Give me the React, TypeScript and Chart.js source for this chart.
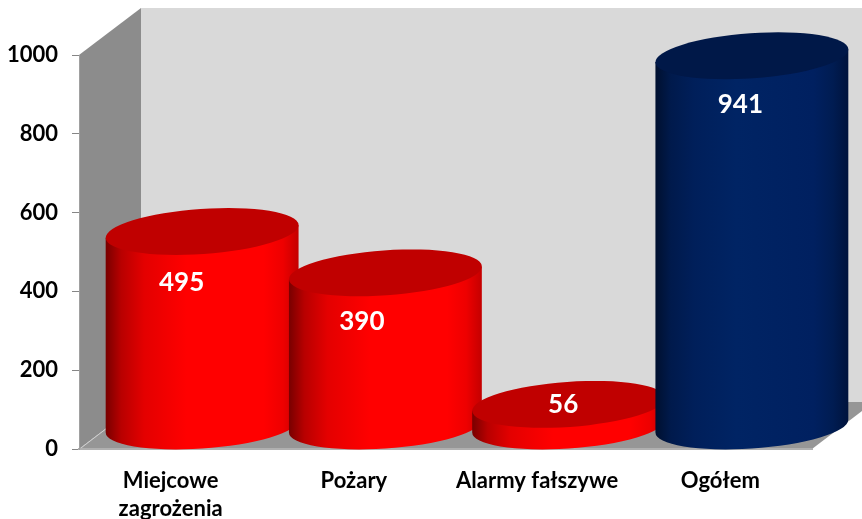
import React, { useEffect, useRef } from "react";
import { Chart, registerables } from "chart.js";

Chart.register(...registerables);

const categories = [["Miejcowe", "zagrożenia"], "Pożary", "Alarmy fałszywe", "Ogółem"];
const values = [495, 390, 56, 941];
const yTicks = [0, 200, 400, 600, 800, 1000];
const FONT = "Lato, Carlito, sans-serif";

const palettes = [
  { top: "#c00000", stops: ["#780000", "#b80000", "#e40000", "#ff0000", "#ff0000", "#ee0000", "#c40000"] },
  { top: "#001848", stops: ["#00102f", "#001a4c", "#001f5a", "#002464", "#002060", "#001c52", "#00133c"] },
];
const stopPos = [0, 0.08, 0.2, 0.42, 0.82, 0.92, 1];
const barPalette = [0, 0, 0, 1];
// label nudges relative to each bar's own position
const labelNudge = [
  { dx: 11, dy: 29 },
  { dx: 8, dy: 26 },
  { dx: 26, dy: -22 },
  { dx: 20, dy: 26 },
];

const DEPTH_X = 62;
const DEPTH_Y = 47;
const CYL_DX = 31.5;
const CYL_DY = -22.5;
const TILT = (-4 * Math.PI) / 180;
const RY = 22.5;

const poly = (ctx: any, pts: number[][], fill: string) => {
  ctx.beginPath();
  pts.forEach(([x, y], i) => (i ? ctx.lineTo(x, y) : ctx.moveTo(x, y)));
  ctx.closePath();
  ctx.fillStyle = fill;
  ctx.fill();
};

const walls = {
  id: "walls",
  beforeDraw(chart: any) {
    const { ctx, chartArea: a } = chart;
    const { left: l, right: r, top: t, bottom: b } = a;
    ctx.save();
    poly(ctx, [[l + DEPTH_X, t - DEPTH_Y], [r + DEPTH_X, t - DEPTH_Y], [r + DEPTH_X, b - DEPTH_Y], [l + DEPTH_X, b - DEPTH_Y]], "#d9d9d9");
    poly(ctx, [[l, t], [l + DEPTH_X, t - DEPTH_Y], [l + DEPTH_X, b - DEPTH_Y], [l, b]], "#8c8c8c");
    poly(ctx, [[l, b], [r, b], [r + DEPTH_X, b - DEPTH_Y], [l + DEPTH_X, b - DEPTH_Y]], "#969696");
    ctx.strokeStyle = "#d0d0d0";
    ctx.lineWidth = 1;
    ctx.beginPath();
    ctx.moveTo(l + 2, b - 1);
    ctx.lineTo(l + DEPTH_X, b - DEPTH_Y);
    ctx.stroke();
    ctx.restore();
  },
};

const cylinders = {
  id: "cylinders",
  afterDatasetsDraw(chart: any) {
    const { ctx } = chart;
    const meta = chart.getDatasetMeta(0);
    ctx.save();
    meta.data.forEach((bar: any, i: number) => {
      const cx = bar.x + CYL_DX;
      const a = bar.width / 2;
      const yBottom = bar.base + CYL_DY;
      const yTop = bar.y + CYL_DY;
      const pal = palettes[barPalette[i]];
      const t0 = Math.atan2(-RY * Math.sin(TILT), a * Math.cos(TILT));
      const ex = a * Math.cos(t0) * Math.cos(TILT) - RY * Math.sin(t0) * Math.sin(TILT);
      const ey = a * Math.cos(t0) * Math.sin(TILT) + RY * Math.sin(t0) * Math.cos(TILT);
      const g = ctx.createLinearGradient(cx - ex, 0, cx + ex, 0);
      pal.stops.forEach((c, k) => g.addColorStop(stopPos[k], c));
      ctx.beginPath();
      ctx.ellipse(cx, yBottom, a, RY, TILT, t0, t0 + Math.PI, false);
      ctx.lineTo(cx - ex, yTop - ey);
      ctx.lineTo(cx + ex, yTop + ey);
      ctx.closePath();
      ctx.fillStyle = g;
      ctx.fill();
      ctx.beginPath();
      ctx.ellipse(cx, yTop, a, RY, TILT, 0, Math.PI * 2);
      ctx.fillStyle = pal.top;
      ctx.fill();
    });
    ctx.font = `bold 26px ${FONT}`;
    ctx.fillStyle = "#ffffff";
    ctx.textAlign = "center";
    ctx.textBaseline = "middle";
    meta.data.forEach((bar: any, i: number) => {
      ctx.fillText(String(values[i]), bar.x + labelNudge[i].dx, bar.y + labelNudge[i].dy);
    });
    ctx.restore();
  },
};

export default function App() {
  const ref = useRef<HTMLCanvasElement>(null);
  useEffect(() => {
    document.body.style.margin = "0";
    const chart = new Chart(ref.current as any, {
      type: "bar",
      data: {
        labels: categories as any,
        datasets: [{ data: values, backgroundColor: "transparent", barPercentage: 1.055, categoryPercentage: 1 }],
      },
      options: {
        responsive: false,
        animation: false,
        layout: { padding: { top: 55, right: 50, left: 0, bottom: 0 } },
        plugins: { legend: { display: false }, tooltip: { enabled: false } },
        scales: {
          x: {
            grid: { display: false, drawTicks: false },
            border: { color: "#b0b0b0", width: 2 },
            ticks: {
              color: "#000",
              maxRotation: 0,
              autoSkip: false,
              padding: 18,
              font: { family: FONT, weight: "bold", size: 22, lineHeight: 1.28 },
            },
            afterFit: (s: any) => { s.height = 70; },
          },
          y: {
            min: 0,
            max: 1000,
            afterBuildTicks: (s: any) => { s.ticks = yTicks.map((value) => ({ value })); },
            grid: { drawOnChartArea: false, tickLength: 7, color: "#868686", lineWidth: 1 },
            border: { color: "#a0a0a0", width: 1 },
            ticks: {
              color: "#000",
              padding: 14,
              callback: (v: any) => String(v),
              font: { family: FONT, weight: "bold", size: 22 },
            },
            afterFit: (s: any) => { s.width = 79; },
          },
        },
      },
      plugins: [walls, cylinders],
    } as any);
    return () => chart.destroy();
  }, []);
  return <canvas ref={ref} width={862} height={519} style={{ display: "block" }} />;
}
